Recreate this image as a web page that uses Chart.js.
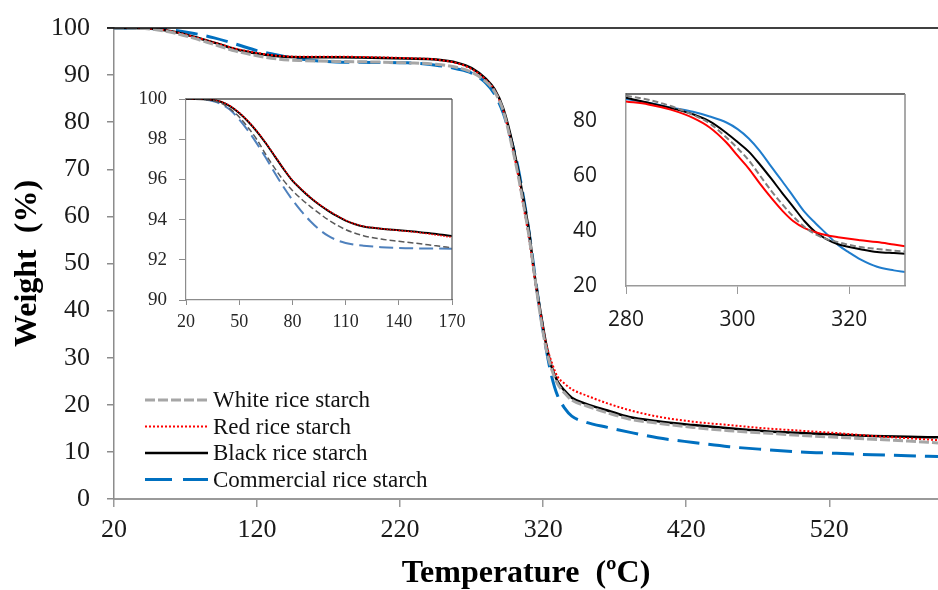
<!DOCTYPE html>
<html>
<head>
<meta charset="utf-8">
<script src="https://cdn.jsdelivr.net/npm/chart.js@4.4.0/dist/chart.umd.min.js"></script>
<style>
  body { margin: 0; background: #fff; }
  #wrap { position: relative; width: 938px; height: 590px; }
  canvas { position: absolute; }
</style>
</head>
<body>
<div id="wrap">
  <canvas id="main" width="938" height="590" style="left:0;top:0"></canvas>
  <canvas id="low" width="345" height="250" style="left:120px;top:85px"></canvas>
  <canvas id="mid" width="360" height="255" style="left:560px;top:80px"></canvas>
</div>
<script>
var seriesNames = ['White rice starch', 'Red rice starch', 'Black rice starch', 'Commercial rice starch'];

// Curva completa (20-596 ºC)
var mainTemp  = [20, 30, 45, 60, 75, 90, 105, 120, 135, 150, 175, 200, 225, 245, 260, 270, 280, 286, 292, 297, 302, 306, 310, 314, 318, 322, 326, 330, 335, 340, 350, 365, 380, 400, 425, 450, 475, 500, 525, 550, 575, 596];
var mainWhite = [100, 100, 99.8, 99.1, 97.9, 96.5, 95.1, 94.1, 93.4, 93.1, 92.9, 92.8, 92.6, 92.3, 91.6, 90.6, 88.6, 86.5, 82.5, 76.5, 69.5, 63, 56, 47.5, 39, 32, 27.5, 24.5, 22.5, 21, 19.8, 18.3, 17.0, 16.1, 15.2, 14.5, 14.0, 13.5, 13.1, 12.7, 12.3, 11.9];
var mainRed   = [100, 100, 99.9, 99.3, 98.2, 96.9, 95.6, 94.7, 94.1, 93.9, 93.9, 93.8, 93.6, 93.3, 92.5, 91.3, 89.0, 86.8, 82.5, 76.5, 69.5, 62.5, 55.5, 47, 39.5, 33, 29, 26, 24.5, 23.3, 22, 20.3, 18.9, 17.5, 16.4, 15.7, 15.0, 14.5, 14.0, 13.4, 12.9, 12.5];
var mainBlack = [100, 100, 99.9, 99.3, 98.2, 96.9, 95.5, 94.6, 94.0, 93.8, 93.8, 93.7, 93.5, 93.3, 92.6, 91.5, 89.2, 87, 83, 77.5, 70.5, 64, 57, 47.5, 40, 33, 28, 25, 23, 21.5, 20.2, 18.8, 17.4, 16.5, 15.7, 15.0, 14.4, 14.0, 13.7, 13.4, 13.2, 13.1];
var mainComm  = [100, 100, 99.9, 99.6, 98.9, 97.9, 96.6, 95.2, 94.2, 93.4, 92.8, 92.7, 92.6, 92.1, 91.3, 90.4, 88.3, 86, 82, 77, 71, 64.5, 57, 48, 39.5, 32, 26, 22, 19.3, 17.6, 16.3, 15.2, 14.2, 13.0, 12.0, 11.1, 10.5, 10.0, 9.7, 9.4, 9.2, 9.0];
var mainTicksX = [20, 120, 220, 320, 420, 520];
var mainTicksY = [0, 10, 20, 30, 40, 50, 60, 70, 80, 90, 100];

// Detalle 20-170 ºC
var lowTemp  = [20, 25, 30, 35, 40, 45, 50, 55, 60, 65, 70, 75, 80, 85, 90, 95, 100, 105, 110, 115, 120, 130, 140, 150, 160, 170];
var lowWhite = [100, 100, 99.98, 99.92, 99.78, 99.5, 99.1, 98.58, 97.98, 97.24, 96.56, 95.95, 95.45, 95.03, 94.66, 94.32, 94.0, 93.73, 93.5, 93.33, 93.2, 93.03, 92.92, 92.82, 92.71, 92.6];
var lowRed   = [100, 100, 99.99, 99.96, 99.86, 99.65, 99.32, 98.9, 98.4, 97.82, 97.18, 96.54, 95.96, 95.52, 95.12, 94.77, 94.47, 94.2, 93.97, 93.79, 93.67, 93.55, 93.46, 93.37, 93.25, 93.12];
var lowBlack = [100, 100, 99.99, 99.95, 99.85, 99.63, 99.3, 98.88, 98.38, 97.8, 97.16, 96.52, 95.94, 95.5, 95.1, 94.75, 94.45, 94.18, 93.95, 93.78, 93.66, 93.55, 93.47, 93.39, 93.3, 93.18];
var lowComm  = [100, 100, 99.98, 99.9, 99.74, 99.45, 98.98, 98.42, 97.78, 97.08, 96.33, 95.62, 94.98, 94.42, 93.93, 93.52, 93.2, 92.98, 92.84, 92.75, 92.7, 92.63, 92.59, 92.57, 92.56, 92.55];
var lowTicksX = [20, 50, 80, 110, 140, 170];
var lowTicksY = [90, 92, 94, 96, 98, 100];

// Detalle 280-330 ºC
var midTemp  = [280, 284, 288, 292, 295, 298, 300, 302, 304, 306, 308, 310, 312, 314, 316, 318, 320, 322, 325, 328, 330];
var midWhite = [89.4, 87.9, 85.6, 82.4, 79.3, 74.1, 70.2, 65.8, 60.3, 54.8, 49.8, 45.3, 41.5, 38.8, 37.1, 36, 35, 34.2, 33.5, 32.9, 32.6];
var midRed   = [87.3, 86.2, 84.3, 81.3, 77.8, 72.3, 67.5, 62.8, 57.3, 52.2, 47.5, 43.6, 41.1, 39.6, 38.5, 37.8, 37.2, 36.7, 36, 35.1, 34.5];
var midBlack = [88.6, 86.8, 84.9, 82.6, 80, 75.8, 72.5, 69, 64.3, 59.2, 53.9, 48.8, 43.6, 39.6, 37, 35.2, 34.2, 33.4, 32.4, 32, 31.8];
var midComm  = [88.2, 86.8, 85.1, 83.5, 81.8, 79.6, 77.2, 73.8, 69.2, 63.6, 58.2, 52.6, 47, 42.8, 38.9, 35, 32.2, 29.7, 27, 25.7, 25.1];
var midTicksX = [280, 300, 320];
var midTicksY = [20, 40, 60, 80];

var serif = '"Liberation Serif", "Times New Roman", serif';
var sans = '"Open Sans", "Liberation Sans", sans-serif';

function toPoints(xs, ys) {
    return xs.map(function(x, i) { return { x: x, y: ys[i] }; });
}

function fixedTicks(values) {
    return function(scale) {
        scale.ticks = values.map(function(v) { return { value: v }; });
    };
}

function fixedSize(size) {
    return function(scale) {
        if (scale.isHorizontal()) {
            scale.height = size;
        } else {
            scale.width = size;
        }
        scale.paddingLeft = 0;
        scale.paddingRight = 0;
        scale.paddingTop = 0;
        scale.paddingBottom = 0;
    };
}

function line(label, points, color, width, dash) {
    return {
        label: label,
        data: points,
        borderColor: color,
        borderWidth: width,
        borderDash: dash,
        pointRadius: 0,
        fill: false,
        cubicInterpolationMode: 'monotone'
    };
}

// Bordes superior y derecho del área
var framePlugin = {
    id: 'frame',
    afterDraw: function(chart, args, opts) {
        var a = chart.chartArea;
        var ctx = chart.ctx;
        ctx.save();
        if (opts.top) {
            ctx.strokeStyle = opts.top;
            ctx.lineWidth = opts.width;
            ctx.beginPath();
            ctx.moveTo(a.left - (opts.topStart || 0), a.top);
            ctx.lineTo(a.right, a.top);
            ctx.stroke();
        }
        if (opts.right) {
            ctx.strokeStyle = opts.right;
            ctx.lineWidth = opts.width;
            ctx.beginPath();
            ctx.moveTo(a.right, a.top);
            ctx.lineTo(a.right, a.bottom);
            ctx.stroke();
        }
        ctx.restore();
    }
};

// Leyenda dibujada dentro del área
var legendPlugin = {
    id: 'boxLegend',
    afterDraw: function(chart, args, opts) {
        var ctx = chart.ctx;
        ctx.save();
        ctx.font = opts.size + 'px ' + serif;
        ctx.textBaseline = 'middle';
        ctx.fillStyle = '#111';
        chart.data.datasets.forEach(function(ds, i) {
            var y = opts.y + i * opts.step;
            ctx.strokeStyle = ds.borderColor;
            ctx.lineWidth = ds.borderWidth;
            ctx.setLineDash(opts.dashes[i]);
            ctx.beginPath();
            ctx.moveTo(opts.x, y);
            ctx.lineTo(opts.x + opts.len, y);
            ctx.stroke();
            ctx.setLineDash([]);
            ctx.fillText(ds.label, opts.x + opts.len + 5, y + 1);
        });
        ctx.restore();
    }
};

Chart.defaults.font.family = serif;
Chart.defaults.color = '#1a1a1a';
Chart.defaults.animation = false;

new Chart(document.getElementById('main'), {
    type: 'line',
    data: {
        datasets: [
            line(seriesNames[0], toPoints(mainTemp, mainWhite), '#a6a6a6', 3, [10, 3]),
            line(seriesNames[1], toPoints(mainTemp, mainRed), '#ff0000', 2, [2, 2]),
            line(seriesNames[2], toPoints(mainTemp, mainBlack), '#000000', 2.5, []),
            line(seriesNames[3], toPoints(mainTemp, mainComm), '#0070c0', 3, [22, 9])
        ]
    },
    plugins: [framePlugin, legendPlugin],
    options: {
        responsive: false,
        layout: { padding: { top: 28, right: 0, left: 0, bottom: 0 } },
        scales: {
            x: {
                type: 'linear',
                min: 20,
                max: 596,
                afterBuildTicks: fixedTicks(mainTicksX),
                afterFit: fixedSize(91),
                grid: { drawOnChartArea: false, color: '#9a9a9a', tickLength: 8, lineWidth: 1.5 },
                border: { color: '#9a9a9a', width: 2 },
                ticks: { font: { size: 26 }, padding: 8, maxRotation: 0 },
                title: {
                    display: true,
                    text: 'Temperature  (ºC)',
                    font: { size: 32, weight: 'bold', lineHeight: 1 },
                    padding: { top: 0, bottom: 0 },
                    color: '#000'
                }
            },
            y: {
                min: 0,
                max: 100,
                afterBuildTicks: fixedTicks(mainTicksY),
                afterFit: fixedSize(114),
                grid: { drawOnChartArea: false, color: '#8c8c8c', tickLength: 7, lineWidth: 1.5 },
                border: { color: '#8c8c8c', width: 1.5 },
                ticks: { font: { size: 26 }, padding: 17 },
                title: {
                    display: true,
                    text: 'Weight  (%)',
                    font: { size: 32, weight: 'bold', lineHeight: 1 },
                    padding: { top: 12, bottom: 0 },
                    color: '#000'
                }
            }
        },
        plugins: {
            legend: { display: false },
            tooltip: { enabled: false },
            frame: { top: '#000000', width: 1.5, topStart: 7 },
            boxLegend: {
                x: 145, y: 400, step: 26.5, len: 63, size: 23,
                dashes: [[10, 3], [2, 2], [], [27, 11]]
            }
        }
    }
});

new Chart(document.getElementById('low'), {
    type: 'line',
    data: {
        datasets: [
            line(seriesNames[0], toPoints(lowTemp, lowWhite), '#595959', 1.5, [6, 3]),
            line(seriesNames[1], toPoints(lowTemp, lowRed), '#ff0000', 1.5, [1.5, 1.5]),
            line(seriesNames[2], toPoints(lowTemp, lowBlack), '#000000', 2, []),
            line(seriesNames[3], toPoints(lowTemp, lowComm), '#4f81bd', 2, [14, 6])
        ]
    },
    plugins: [framePlugin],
    options: {
        responsive: false,
        layout: { padding: { top: 14, right: 13, left: 0, bottom: 0 } },
        scales: {
            x: {
                type: 'linear',
                min: 20,
                max: 170,
                afterBuildTicks: fixedTicks(lowTicksX),
                afterFit: fixedSize(35),
                grid: { drawOnChartArea: false, color: '#8c8c8c', tickLength: 5 },
                border: { color: '#8c8c8c', width: 1.2 },
                ticks: { font: { size: 18 }, padding: 6, maxRotation: 0, color: '#262626' }
            },
            y: {
                min: 90,
                max: 100,
                afterBuildTicks: fixedTicks(lowTicksY),
                afterFit: fixedSize(66),
                grid: { drawOnChartArea: false, color: '#8c8c8c', tickLength: 7 },
                border: { color: '#8c8c8c', width: 1.2 },
                ticks: { font: { size: 19 }, padding: 12, color: '#262626' }
            }
        },
        plugins: {
            legend: { display: false },
            tooltip: { enabled: false },
            frame: { top: '#000000', right: '#555555', width: 1.2 }
        }
    }
});

new Chart(document.getElementById('mid'), {
    type: 'line',
    data: {
        datasets: [
            line(seriesNames[0], toPoints(midTemp, midWhite), '#808080', 2, [6, 3]),
            line(seriesNames[1], toPoints(midTemp, midRed), '#ff0000', 2, []),
            line(seriesNames[2], toPoints(midTemp, midBlack), '#000000', 2, []),
            line(seriesNames[3], toPoints(midTemp, midComm), '#1f7ccc', 2, [])
        ]
    },
    plugins: [framePlugin],
    options: {
        responsive: false,
        layout: { padding: { top: 14, right: 15, left: 0, bottom: 0 } },
        scales: {
            x: {
                type: 'linear',
                min: 280,
                max: 330,
                afterBuildTicks: fixedTicks(midTicksX),
                afterFit: fixedSize(49),
                grid: { drawOnChartArea: false, color: '#9a9a9a', tickLength: 8 },
                border: { color: '#9a9a9a', width: 1.5 },
                ticks: { font: { size: 21, family: sans }, padding: 13, maxRotation: 0, color: '#1a1a1a' }
            },
            y: {
                min: 20,
                max: 90,
                afterBuildTicks: fixedTicks(midTicksY),
                afterFit: fixedSize(66),
                grid: { drawOnChartArea: false, drawTicks: false, color: '#9a9a9a' },
                border: { color: '#9a9a9a', width: 1.5 },
                ticks: { font: { size: 21, family: sans }, padding: 29, color: '#1a1a1a' }
            }
        },
        plugins: {
            legend: { display: false },
            tooltip: { enabled: false },
            frame: { top: '#404040', right: '#8c8c8c', width: 1.5 }
        }
    }
});
</script>
</body>
</html>
